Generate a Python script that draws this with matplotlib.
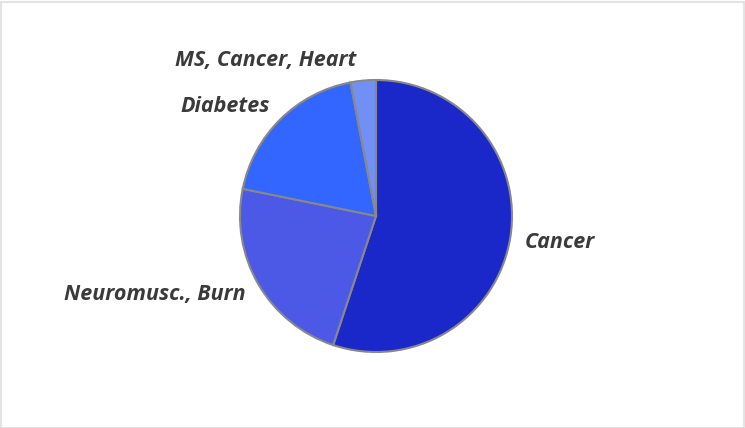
import matplotlib
matplotlib.use("Agg")
import matplotlib.pyplot as plt
from matplotlib.patches import Rectangle

labels = ["Cancer", "Neuromusc., Burn", "Diabetes", "MS, Cancer, Heart"]
values = [55.1, 23.1, 18.8, 3.0]
colors = ["#1b28c9", "#4b59e6", "#3366ff", "#7190f5"]

W, H = 745, 428
fig = plt.figure(figsize=(W / 100, H / 100), dpi=100)
fig.patch.set_facecolor("white")

cx, cy, R = 376, 212, 136
L = 1.5
half = R * L
ax = fig.add_axes([(cx - half) / W, (cy - half) / H, 2 * half / W, 2 * half / H])
wedges, texts = ax.pie(
    values, labels=labels, colors=colors, startangle=90, counterclock=False,
    labeldistance=1.11,
    wedgeprops=dict(edgecolor="#888888", linewidth=1.5),
    textprops=dict(fontsize=15.5, fontweight="bold", fontstyle="italic",
                   color="#3a3a3a", family=["Open Sans", "DejaVu Sans"]),
)
# small label nudges (in units of pie radius)
nudges = [(0, -0.015), (0, -0.02), (0, 0.015), (-0.04, 0.04)]
for t, (dx, dy) in zip(texts, nudges):
    x, y = t.get_position()
    t.set_position((x + dx, y + dy))

ax.set_xlim(-L, L)
ax.set_ylim(-L, L)
ax.axis("off")

fig.patches.append(Rectangle((0.5 / W, 0.5 / H), 1 - 2 / W, 1 - 2 / H,
                             transform=fig.transFigure, fill=False,
                             edgecolor="#e3e3e3", linewidth=1.5))

fig.savefig("out.png", dpi=100)
